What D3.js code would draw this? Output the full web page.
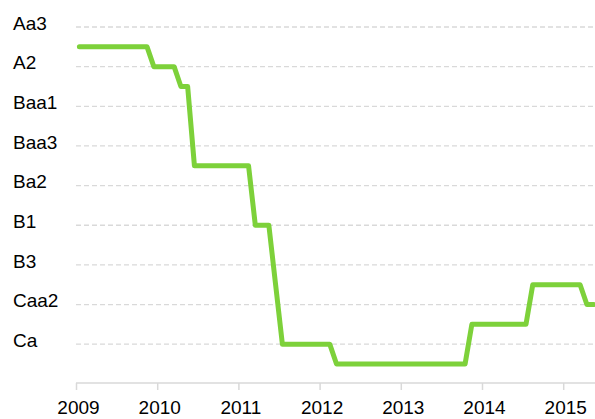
<!DOCTYPE html>
<html>
<head>
<meta charset="utf-8">
<script src="https://cdn.jsdelivr.net/npm/d3@7"></script>
<style>
  html, body { margin: 0; padding: 0; background: #fff; }
  svg { display: block; }
  text { font-family: "Liberation Sans", Arial, sans-serif; fill: #000; }
</style>
</head>
<body>
<div id="chart"></div>
<script>
// Moody's scale, best to worst
const ratingScale = ['Aa3', 'A1', 'A2', 'A3', 'Baa1', 'Baa2', 'Baa3', 'Ba1', 'Ba2', 'Ba3',
    'B1', 'B2', 'B3', 'Caa1', 'Caa2', 'Caa3', 'Ca', 'C'];
const yLabels = ['Aa3', 'A2', 'Baa1', 'Baa3', 'Ba2', 'B1', 'B3', 'Caa2', 'Ca'];
const years = [2009, 2010, 2011, 2012, 2013, 2014, 2015];

// monthly rating, Jan..Dec
const r2009 = ['A1', 'A1', 'A1', 'A1', 'A1', 'A1', 'A1', 'A1', 'A1', 'A1', 'A1', 'A2'];
const r2010 = ['A2', 'A2', 'A2', 'A3', 'A3', 'Ba1', 'Ba1', 'Ba1', 'Ba1', 'Ba1', 'Ba1', 'Ba1'];
const r2011 = ['Ba1', 'Ba1', 'B1', 'B1', 'B1', 'Caa1', 'Ca', 'Ca', 'Ca', 'Ca', 'Ca', 'Ca'];
const r2012 = ['Ca', 'Ca', 'C', 'C', 'C', 'C', 'C', 'C', 'C', 'C', 'C', 'C'];
const r2013 = ['C', 'C', 'C', 'C', 'C', 'C', 'C', 'C', 'C', 'C', 'Caa3', 'Caa3'];
const r2014 = ['Caa3', 'Caa3', 'Caa3', 'Caa3', 'Caa3', 'Caa3', 'Caa3', 'Caa1', 'Caa1', 'Caa1', 'Caa1', 'Caa1'];
const r2015 = ['Caa1', 'Caa1', 'Caa1', 'Caa2', 'Caa2'];

const width = 595, height = 419;
const svg = d3.select('#chart').append('svg')
    .attr('width', width)
    .attr('height', height);

const x = d3.scaleLinear().domain([2009, 2016]).range([76, 644.4]);
const y = d3.scaleLinear().domain([0, ratingScale.length - 1]).range([27, 364]);

const series = [r2009, r2010, r2011, r2012, r2013, r2014, r2015].flatMap((arr, i) =>
    arr.map((r, m) => ({ t: years[i] + (m + 0.5) / 12, v: ratingScale.indexOf(r) })));

// gridlines
svg.append('g')
    .selectAll('line')
    .data(yLabels)
    .enter().append('line')
    .attr('x1', 76)
    .attr('x2', width)
    .attr('y1', d => y(ratingScale.indexOf(d)))
    .attr('y2', d => y(ratingScale.indexOf(d)))
    .attr('stroke', '#d9d9d9')
    .attr('stroke-width', 1.3)
    .attr('stroke-dasharray', '5,3');

// y labels
svg.append('g')
    .selectAll('text')
    .data(yLabels)
    .enter().append('text')
    .attr('x', 13)
    .attr('y', d => y(ratingScale.indexOf(d)) - 4)
    .attr('dy', '0.35em')
    .style('font-size', '19px')
    .text(d => d);

// x axis
const xAxis = svg.append('g')
    .attr('transform', 'translate(0,383)')
    .call(d3.axisBottom(x).tickValues(years).tickFormat(d3.format('d')).tickSize(7).tickSizeOuter(0));
xAxis.select('.domain').attr('stroke', '#d9d9d9').attr('stroke-width', 1.5)
    .attr('d', `M76,0H${width}`);
xAxis.selectAll('.tick line').attr('stroke', '#d9d9d9').attr('stroke-width', 1.5);
xAxis.selectAll('.tick text')
    .attr('y', 31)
    .attr('dy', 0)
    .attr('dx', 2)
    .style('font-size', '19px')
    .style('font-family', '"Liberation Sans", Arial, sans-serif')
    .attr('fill', '#000');

// rating line
const line = d3.line()
    .x(d => x(d.t))
    .y(d => y(d.v));

svg.append('path')
    .datum(series)
    .attr('d', line)
    .attr('fill', 'none')
    .attr('stroke', '#7dd13a')
    .attr('stroke-width', 5)
    .attr('stroke-linejoin', 'round')
    .attr('stroke-linecap', 'round');
</script>
</body>
</html>
